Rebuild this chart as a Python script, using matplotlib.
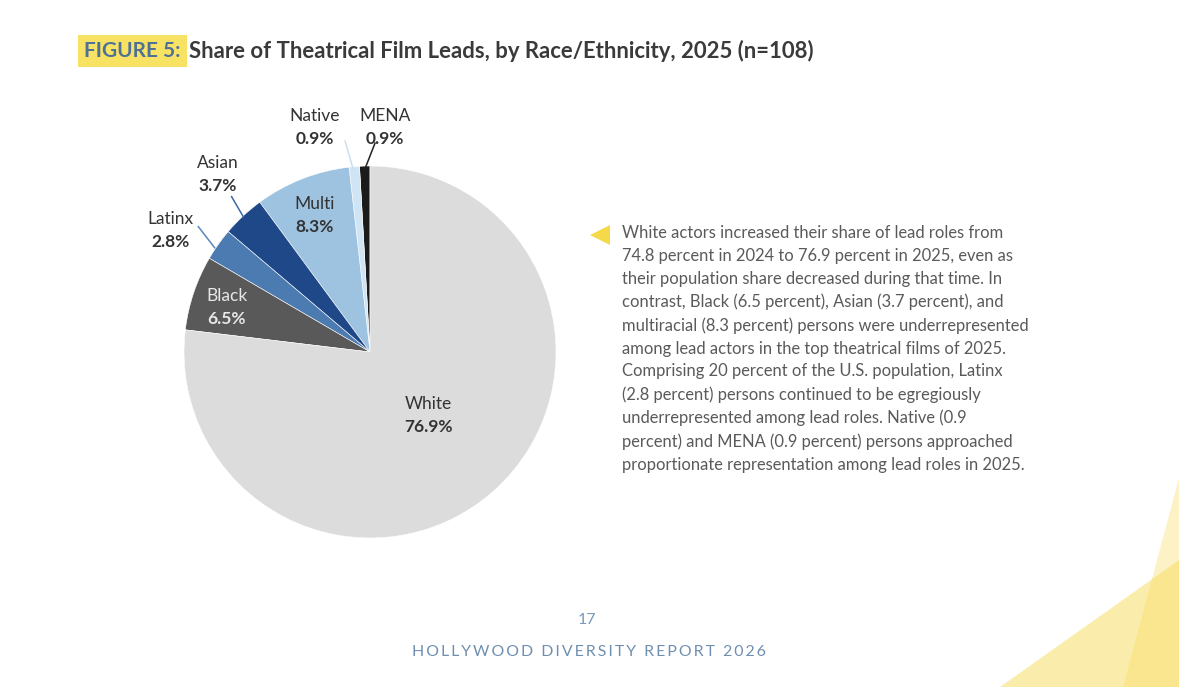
import matplotlib.pyplot as plt
from matplotlib.patches import Polygon

plt.rcParams['font.family'] = ['Lato', 'DejaVu Sans']

# Share of theatrical film leads, 2025 (counterclockwise from top)
groups = ['MENA', 'Native', 'Multi', 'Asian', 'Latinx', 'Black', 'White']
shares = [0.9, 0.9, 8.3, 3.7, 2.8, 6.5, 76.9]
colors = ['#1b1b1b', '#d0e4f3', '#9dc3e1', '#1f4889', '#4b7bb0', '#595959', '#dcdcdc']

body = ("White actors increased their share of lead roles from\n"
        "74.8 percent in 2024 to 76.9 percent in 2025, even as\n"
        "their population share decreased during that time. In\n"
        "contrast, Black (6.5 percent), Asian (3.7 percent), and\n"
        "multiracial (8.3 percent) persons were underrepresented\n"
        "among lead actors in the top theatrical films of 2025.\n"
        "Comprising 20 percent of the U.S. population, Latinx\n"
        "(2.8 percent) persons continued to be egregiously\n"
        "underrepresented among lead roles. Native (0.9\n"
        "percent) and MENA (0.9 percent) persons approached\n"
        "proportionate representation among lead roles in 2025.")

W, H = 1179, 687
fig = plt.figure(figsize=(W / 100, H / 100), dpi=100)

# background corner shapes
deco = fig.add_axes([0, 0, 1, 1])
deco.set_xlim(0, W)
deco.set_ylim(H, 0)
deco.axis('off')
deco.add_patch(Polygon([(1179, 478), (1123, 687), (1179, 687)], closed=True,
                       facecolor='#f7dc5a', alpha=0.35, lw=0))
deco.add_patch(Polygon([(1179, 560), (1000, 687), (1179, 687)], closed=True,
                       facecolor='#f7dc5a', alpha=0.5, lw=0))
deco.add_patch(Polygon([(590, 235), (610, 225), (610, 245)], closed=True,
                       facecolor='#f5d948', lw=0))

# pie
cx, cy, R = 370, 352, 186
half = R * 1.3
ax = fig.add_axes([(cx - half) / W, (H - cy - half) / H, 2 * half / W, 2 * half / H])
ax.pie(shares, colors=colors, startangle=90, counterclock=True, radius=1,
       wedgeprops=dict(linewidth=0.4, edgecolor='white'))
ax.set_xlim(-1.3, 1.3)
ax.set_ylim(-1.3, 1.3)
ax.set_aspect('equal')
ax.axis('off')

label_pos = {
    'MENA': (0.08, 1.269, '#333333'),
    'Native': (-0.296, 1.269, '#333333'),
    'Multi': (-0.296, 0.796, '#333333'),
    'Asian': (-0.82, 1.016, '#333333'),
    'Latinx': (-1.075, 0.715, '#333333'),
    'Black': (-0.769, 0.301, '#e8e8e8'),
    'White': (0.312, -0.28, '#333333'),
}
for g, s in zip(groups, shares):
    x, y, c = label_pos[g]
    ax.text(x, y, g, ha='center', va='center', fontsize=12.5, color=c)
    ax.text(x, y - 0.124, f'{s}%', ha='center', va='center', fontsize=12.5,
            color=c, fontweight='bold')

leaders = {
    'Native': [(-0.134, 1.134), (-0.091, 0.985)],
    'MENA': [(0.027, 1.123), (-0.027, 0.985)],
    'Asian': [(-0.744, 0.835), (-0.681, 0.727)],
    'Latinx': [(-0.923, 0.674), (-0.835, 0.56)],
}
leader_col = {'Native': '#c9dff0', 'MENA': '#222222', 'Asian': '#3a6aa5', 'Latinx': '#5a88bb'}
for g, pts in leaders.items():
    ax.plot([pts[0][0], pts[1][0]], [pts[0][1], pts[1][1]], color=leader_col[g], lw=1.1)

# title
fig.text(84 / W, 1 - 51 / H, 'FIGURE 5:', ha='left', va='center', fontsize=15,
         fontweight='bold', color='#4f7196',
         bbox=dict(boxstyle='square,pad=0.3', facecolor='#f7e264', edgecolor='none'))
fig.text(189 / W, 1 - 51 / H, 'Share of Theatrical Film Leads, by Race/Ethnicity, 2025 (n=108)',
         ha='left', va='center', fontsize=15.9, fontweight='bold', color='#3a3a3a')

# side text
fig.text(622 / W, 1 - 225 / H, body, ha='left', va='top', fontsize=11.9,
         color='#5a5a5a', linespacing=1.52)

# footer
fig.text(587 / W, 1 - 620 / H, '17', ha='center', va='center', fontsize=11.5, color='#7b98b8')
fig.text(589 / W, 1 - 652 / H, '\u2009'.join('HOLLYWOOD DIVERSITY REPORT 2026'),
         ha='center', va='center', fontsize=11.4, color='#6f8fb0')

fig.savefig('out.png', dpi=100)
